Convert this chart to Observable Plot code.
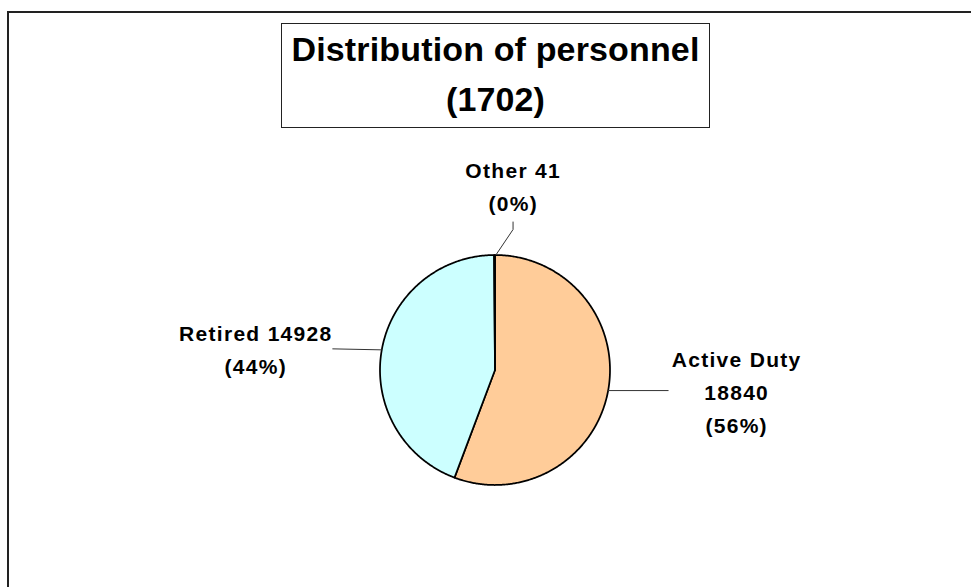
<!DOCTYPE html>
<html><head><meta charset="utf-8">
<script src="https://cdn.jsdelivr.net/npm/d3@7"></script>
<script src="https://cdn.jsdelivr.net/npm/@observablehq/plot@0.6"></script>
<style>
html,body{margin:0;padding:0;background:#fff;overflow:hidden;width:971px;height:587px;}
#frame{position:absolute;left:7px;top:11px;width:1200px;height:800px;border-left:2px solid #222;border-top:2px solid #222;pointer-events:none;}
#wrap{position:relative;padding-top:23px;}
#title{margin-left:281px;width:427px;height:103px;border:1px solid #222;text-align:center;font:bold 34px/50px "Liberation Sans",Arial,sans-serif;color:#000;letter-spacing:0.15px;}
#chart svg{display:block;}
#chart text{letter-spacing:1.3px;}
</style></head><body>
<div id="frame"></div>
<div id="wrap">
<div id="title">Distribution of personnel<br>(1702)</div>
<div id="chart"></div>
</div>
<script>
// ---- data ----
const categories = ["Active Duty", "Retired", "Other"];
const values = [18840, 14928, 41];
const sliceColors = ["#FFCC99", "#CCFFFF", "#FFFFCC"];

// ---- layout ----
const W = 971, H = 459, cx = 494.5, cy = 241.5, R = 115;
// pixel offsets relative to slice edge point at mid-angle
const labelLayout = [
  {lead: [[0, 0], [60, 0]], text: [128.5, 42], wrapName: true},
  {lead: [[0, 0], [-49, -1]], text: [-126, 24], wrapName: false},
  {lead: [[2, -1], [18.5, -25.5], [18.5, -33]], text: [18.6, -44.5], wrapName: false}
];
const font = '"Liberation Sans", Arial, sans-serif';

const total = d3.sum(values);
const arcs = d3.pie().sort(null).value(d => d)(values);

const slices = arcs.flatMap((a, i) => {
  const n = Math.max(2, Math.ceil((a.endAngle - a.startAngle) / (Math.PI / 360)));
  const pts = [{name: categories[i], x: 0, y: 0}];
  for (let k = 0; k <= n; k++) {
    const t = a.startAngle + (a.endAngle - a.startAngle) * k / n;
    pts.push({name: categories[i], x: Math.sin(t), y: Math.cos(t)});
  }
  pts.push({name: categories[i], x: 0, y: 0});
  return pts;
});

const edge = arcs.map(a => {
  const m = (a.startAngle + a.endAngle) / 2;
  return [Math.sin(m), Math.cos(m)];
});

const leaders = arcs.flatMap((a, i) =>
  labelLayout[i].lead.map(([dx, dy]) => ({name: categories[i], x: edge[i][0] + dx / R, y: edge[i][1] - dy / R}))
);

const labels = arcs.map((a, i) => {
  const pct = Math.round(values[i] / total * 100) + "%";
  const txt = labelLayout[i].wrapName
    ? `${categories[i]}\n${values[i]}\n(${pct})`
    : `${categories[i]} ${values[i]}\n(${pct})`;
  return {name: categories[i], text: txt,
    x: edge[i][0] + labelLayout[i].text[0] / R,
    y: edge[i][1] - labelLayout[i].text[1] / R};
});

const chart = Plot.plot({
  width: W, height: H, margin: 0,
  style: {background: "transparent", overflow: "visible"},
  x: {domain: [-cx / R, (W - cx) / R], range: [0, W], axis: null},
  y: {domain: [-(H - cy) / R, cy / R], range: [H, 0], axis: null},
  color: {domain: categories, range: sliceColors},
  marks: [
    Plot.line(slices, {x: "x", y: "y", z: "name", fill: "name", stroke: "#000", strokeWidth: 1.75, strokeLinejoin: "round", curve: "linear"}),
    Plot.line(leaders, {x: "x", y: "y", z: "name", stroke: "#333", strokeWidth: 1, curve: "linear"}),
    Plot.text(labels, {x: "x", y: "y", text: "text", textAnchor: "middle", lineAnchor: "bottom",
      lineHeight: 33 / 21, fontSize: 21, fontWeight: "bold", fontFamily: font, fill: "#000"})
  ]
});
document.getElementById("chart").appendChild(chart);
</script>
</body></html>
